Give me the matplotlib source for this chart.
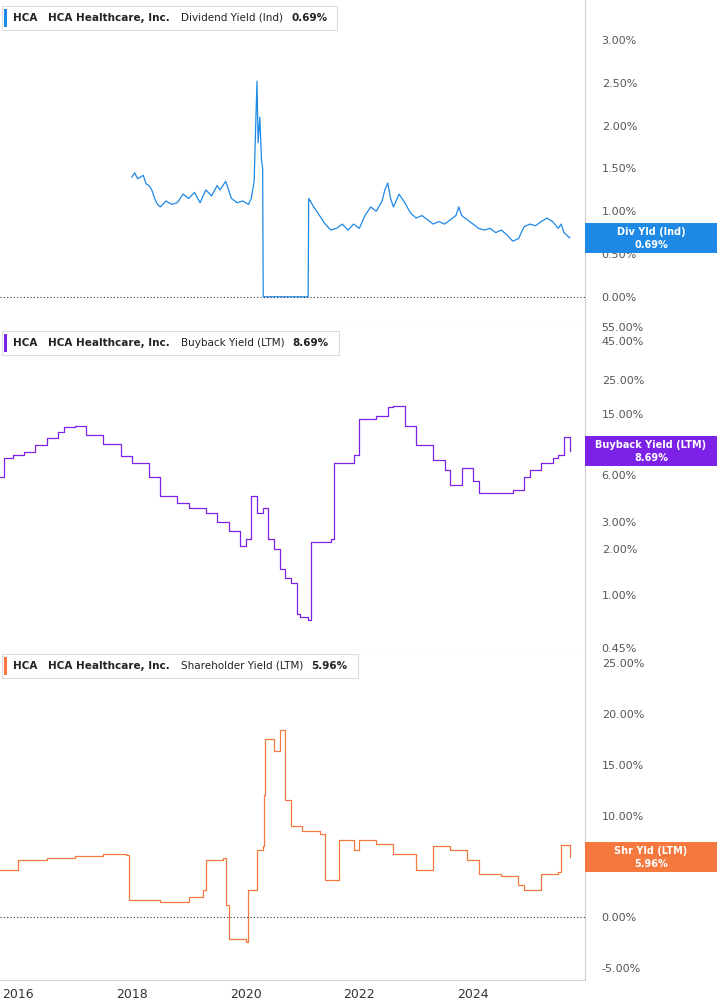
import matplotlib
matplotlib.use("Agg")
import matplotlib.pyplot as plt
from matplotlib.patches import Rectangle
from matplotlib.ticker import FixedLocator, NullLocator

# ---------------- data ----------------
div_t = [2018.0,2018.05,2018.1,2018.2,2018.25,2018.3,2018.35,2018.4,2018.45,2018.5,2018.6,2018.7,2018.8,2018.9,
         2019.0,2019.1,2019.2,2019.3,2019.4,2019.5,2019.55,2019.65,2019.75,2019.85,2019.95,2020.05,2020.1,2020.15,
         2020.2,2020.22,2020.25,2020.28,2020.3,2020.31,2021.1,2021.11,2021.2,2021.3,2021.4,2021.5,2021.6,2021.7,
         2021.8,2021.9,2022.0,2022.1,2022.2,2022.3,2022.4,2022.45,2022.5,2022.55,2022.6,2022.7,2022.8,2022.9,
         2023.0,2023.1,2023.2,2023.3,2023.4,2023.5,2023.6,2023.7,2023.75,2023.8,2023.9,2024.0,2024.1,2024.2,
         2024.3,2024.4,2024.5,2024.6,2024.7,2024.8,2024.9,2025.0,2025.1,2025.2,2025.3,2025.4,2025.5,2025.55,2025.6,2025.7]
div_v = [1.40,1.45,1.38,1.42,1.32,1.30,1.25,1.15,1.08,1.05,1.12,1.08,1.10,1.20,
         1.15,1.22,1.10,1.25,1.18,1.30,1.25,1.35,1.15,1.10,1.12,1.08,1.15,1.35,
         2.52,1.80,2.10,1.60,1.50,0.0,0.0,1.15,1.05,0.95,0.85,0.78,0.80,0.85,
         0.78,0.85,0.80,0.95,1.05,1.00,1.12,1.25,1.33,1.15,1.05,1.20,1.10,0.98,
         0.92,0.95,0.90,0.85,0.88,0.85,0.90,0.95,1.05,0.95,0.90,0.85,0.80,0.78,
         0.80,0.75,0.78,0.72,0.65,0.68,0.82,0.85,0.83,0.88,0.92,0.88,0.80,0.85,0.75,0.69]

bb_t = [2015.68,2015.75,2015.9,2016.1,2016.3,2016.5,2016.7,2016.8,2017.0,2017.2,2017.5,2017.8,2018.0,2018.3,2018.5,
        2018.8,2019.0,2019.3,2019.5,2019.7,2019.9,2020.0,2020.1,2020.2,2020.3,2020.4,2020.5,2020.6,2020.7,2020.8,
        2020.9,2020.95,2021.1,2021.15,2021.5,2021.55,2021.9,2022.0,2022.3,2022.5,2022.6,2022.8,2023.0,2023.3,
        2023.5,2023.6,2023.8,2024.0,2024.1,2024.5,2024.7,2024.9,2025.0,2025.2,2025.4,2025.5,2025.6,2025.7]
bb_v = [5.9,7.8,8.2,8.5,9.5,10.5,11.5,12.3,12.5,11.0,9.6,8.0,7.2,5.9,4.4,
        4.0,3.7,3.4,3.0,2.6,2.1,2.3,4.4,3.4,3.7,2.3,2.0,1.48,1.3,1.2,
        0.75,0.72,0.69,2.2,2.3,7.2,8.2,14.0,14.5,16.8,17.0,12.5,9.5,7.6,
        6.5,5.2,6.7,5.5,4.6,4.6,4.8,5.9,6.5,7.2,7.8,8.2,10.7,8.69]

sy_t = [2015.68,2016.0,2016.5,2017.0,2017.5,2017.9,2017.95,2018.5,2019.0,2019.25,2019.3,2019.6,2019.65,2019.7,
        2020.0,2020.05,2020.2,2020.3,2020.32,2020.35,2020.5,2020.6,2020.7,2020.8,2021.0,2021.3,2021.4,2021.6,2021.65,
        2021.9,2022.0,2022.3,2022.6,2023.0,2023.3,2023.6,2023.9,2024.1,2024.5,2024.8,2024.9,2025.2,2025.5,2025.55,2025.7]
sy_v = [4.6,5.6,5.8,6.0,6.2,6.1,1.7,1.5,2.0,2.7,5.6,5.8,1.2,-2.2,
        -2.5,2.7,6.6,7.0,12.0,17.5,16.4,18.4,11.5,9.0,8.5,8.2,3.6,3.6,7.6,
        6.6,7.6,7.2,6.2,4.6,7.0,6.6,5.6,4.2,4.0,3.2,2.7,4.2,4.4,7.1,5.96]

years = [2016,2018,2020,2022,2024,2026]
ticks1 = [0.0,0.5,1.0,1.5,2.0,2.5,3.0]
ticks2 = [0.45,1,2,3,6,15,25,45,55]
ticks3 = [-5,0,5,10,15,20,25]

C1, C2, C3 = "#1e88e5", "#7b22e6", "#f5783e"
W, H = 717, 1005
fig = plt.figure(figsize=(W/100, H/100), dpi=100)
gray = "#d0d0d0"

def mkax(top, bot):
    ax = fig.add_axes([0, 1-bot/H, 585/W, (bot-top)/H])
    ax.set_xlim(2015.68, 2025.97)
    for s in ["left", "top"]:
        ax.spines[s].set_visible(False)
    ax.spines["right"].set_color(gray)
    ax.spines["bottom"].set_color(gray)
    ax.yaxis.tick_right()
    ax.tick_params(axis="y", length=0, labelsize=8, labelcolor="#555555", pad=12)
    return ax

ax1 = mkax(0, 325)
ax1.plot(div_t, div_v, color=C1, lw=0.9)
ax1.set_ylim(-0.33, 3.47)
ax1.yaxis.set_major_locator(FixedLocator(ticks1))
ax1.set_yticklabels([f"{t:.2f}%" for t in ticks1])
ax1.axhline(0, color="#333", lw=0.8, ls=(0, (1, 2)))

ax2 = mkax(325, 650)
ax2.plot(bb_t, bb_v, color=C2, lw=0.9, drawstyle="steps-post")
ax2.set_yscale("log")
ax2.set_ylim(0.44, 57)
ax2.yaxis.set_major_locator(FixedLocator(ticks2))
ax2.yaxis.set_minor_locator(NullLocator())
ax2.set_yticklabels([f"{t:.2f}%" for t in ticks2])

ax3 = mkax(650, 980)
ax3.plot(sy_t, sy_v, color=C3, lw=0.9, drawstyle="steps-post")
ax3.set_ylim(-6.2, 26.3)
ax3.yaxis.set_major_locator(FixedLocator(ticks3))
ax3.set_yticklabels([f"{t:.2f}%" for t in ticks3])
ax3.axhline(0, color="#333", lw=0.8, ls=(0, (1, 2)))

for ax in (ax1, ax2, ax3):
    ax.xaxis.set_major_locator(FixedLocator(years))
    ax.tick_params(axis="x", length=0)
    if ax is not ax3:
        ax.set_xticklabels([])
ax3.set_xticklabels([str(y) for y in years], fontsize=9, color="#333")
ax3.tick_params(axis="x", pad=6)

fig.canvas.draw()
rend = fig.canvas.get_renderer()

def label(ax, xval, yval, color, l1, l2):
    yd = ax.transData.transform((xval, yval))[1]
    yc = yd / H
    h = 30 / H
    fig.patches.append(Rectangle((585/W, yc-h/2), 132/W, h, transform=fig.transFigure,
                                 facecolor=color, edgecolor="none", zorder=5))
    fig.text(651/W, yc+6/H, l1, color="white", fontsize=7, fontweight="bold", ha="center", va="center", zorder=6)
    fig.text(651/W, yc-7/H, l2, color="white", fontsize=7, fontweight="bold", ha="center", va="center", zorder=6)

label(ax1, div_t[-1], div_v[-1], C1, "Div Yld (Ind)", "0.69%")
label(ax2, bb_t[-1], bb_v[-1], C2, "Buyback Yield (LTM)", "8.69%")
label(ax3, sy_t[-1], sy_v[-1], C3, "Shr Yld (LTM)", "5.96%")

def header(ytop, color, name, val):
    yy = 1-(ytop+14)/H
    x = 13
    parts = [("HCA", "bold", 11), ("HCA Healthcare, Inc.", "bold", 11), (name, "normal", 8), (val, "bold", 10)]
    for txt, wt, gap in parts:
        t = fig.text(x/W, yy, txt, fontsize=7.5, fontweight=wt, va="center", zorder=7, color="#222")
        bb = t.get_window_extent(rend)
        x = bb.x1 + gap
    width = x - 2
    fig.patches.append(Rectangle((2/W, 1-(ytop+26)/H), width/W, 24/H, transform=fig.transFigure,
                                 facecolor="white", edgecolor="#dddddd", lw=0.8, zorder=5))
    fig.patches.append(Rectangle((4/W, 1-(ytop+23)/H), 3/W, 18/H, transform=fig.transFigure,
                                 facecolor=color, edgecolor="none", zorder=6))

header(4, C1, "Dividend Yield (Ind)", "0.69%")
header(329, C2, "Buyback Yield (LTM)", "8.69%")
header(652, C3, "Shareholder Yield (LTM)", "5.96%")

fig.savefig("out.png", dpi=100)
